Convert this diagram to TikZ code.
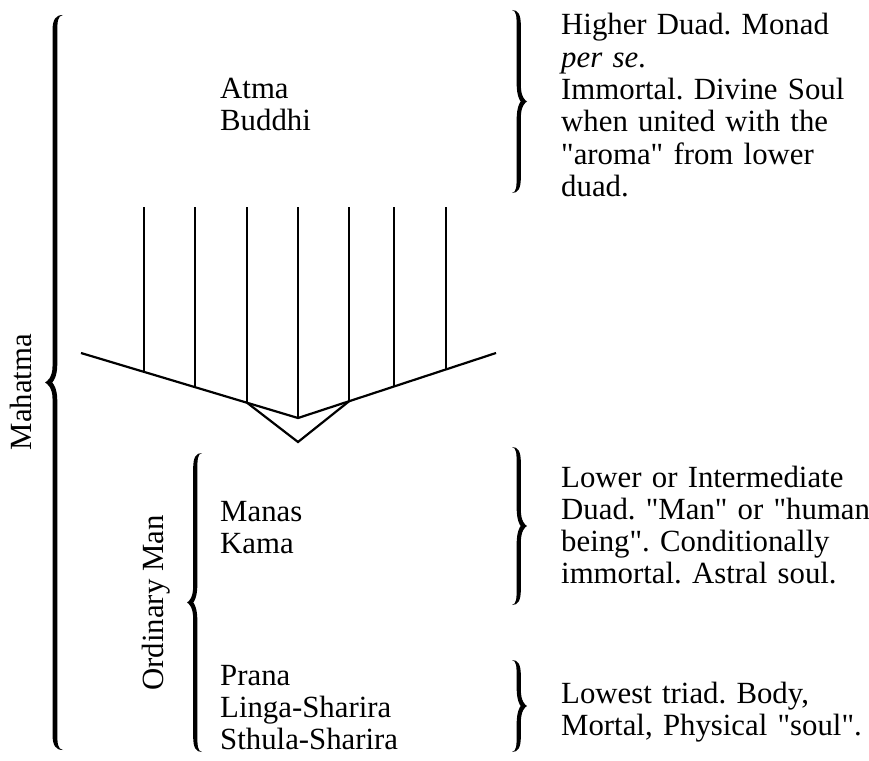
\documentclass[tikz,border=0pt]{standalone}
\usepackage{fontspec}
\setmainfont{Liberation Serif}
\usetikzlibrary{calc}
\newcommand{\brc}[4]{%
\begin{scope}[#1]
\pgfmathsetmacro\brH{#2}\pgfmathsetmacro\brW{#3}\pgfmathsetmacro\brT{#4}
\pgfmathsetmacro\brO{0.45*\brW+\brT/2}
\pgfmathsetmacro\brI{0.45*\brW-\brT/2}
\pgfmathsetmacro\brM{\brH/2}
\pgfmathsetmacro\brN{\brW-1.5*\brT}
\fill (0,0)
 .. controls ({0.4*\brW},0) and (\brO,4) .. (\brO,16)
 -- (\brO,{\brM-16})
 .. controls (\brO,{\brM-5}) and ({\brW-2},{\brM-1}) .. (\brW,\brM)
 .. controls ({\brW-2},{\brM+1}) and (\brO,{\brM+5}) .. (\brO,{\brM+16})
 -- (\brO,{\brH-16})
 .. controls (\brO,{\brH-4}) and ({0.4*\brW},\brH) .. (0,\brH)
 .. controls ({0.3*\brW},{\brH-1}) and (\brI,{\brH-6}) .. (\brI,{\brH-18})
 -- (\brI,{\brM+18})
 .. controls (\brI,{\brM+6}) and ({\brN-1},{\brM+1}) .. (\brN,\brM)
 .. controls ({\brN-1},{\brM-1}) and (\brI,{\brM-6}) .. (\brI,{\brM-18})
 -- (\brI,18)
 .. controls (\brI,6) and ({0.3*\brW},1) .. (0,0) -- cycle;
\end{scope}}
\newcommand{\dq}{\textquotedbl}
\tikzset{
 lbl/.style={anchor=base west, inner sep=0pt, text width=320pt, align=left,
   font=\fontsize{30.8}{32.3}\selectfont\frenchspacing},
 vlbl/.style={anchor=base, inner sep=0pt, rotate=90, font=\fontsize{30.8}{32.3}\selectfont},
 ray/.style={line width=2pt},
 vee/.style={line width=2.2pt, line join=miter},
}
\begin{document}
\begin{tikzpicture}[x=1pt,y=-1pt]
\useasboundingbox[fill=white] (0,0) rectangle (869,760);
% labels
\node[lbl] (atma) at (220,98) {Atma\\Buddhi};
\node[lbl] (manas) at (220,521) {Manas\\Kama};
\node[lbl] (prana) at (220,685) {Prana\\Linga-Sharira\\Sthula-Sharira};
\node[lbl] (higher) at (561,35) {Higher Duad. Monad\\\textit{per se}.\\Immortal. Divine Soul\\when united with the\\\dq aroma\dq{} from lower\\duad.};
\node[lbl] (lower) at (561,487) {Lower or Intermediate\\Duad. \dq Man\dq{} or \dq human\\being\dq. Conditionally\\immortal. Astral soul.};
\node[lbl] (lowest) at (561,703) {Lowest triad. Body,\\Mortal, Physical \dq soul\dq.};
\node[vlbl] (mahatma) at (31,392) {Mahatma};
\node[vlbl] (ordinary) at (163,603) {Ordinary Man};
% braces
\brc{shift={(63,15)},xscale=-1}{735}{18}{4.8}
\brc{shift={(202,453)},xscale=-1}{299}{15}{4.2}
\brc{shift={(512,10)}}{183}{15}{4.2}
\brc{shift={(512,447)}}{158}{15}{4.2}
\brc{shift={(512,660)}}{92}{15}{4.2}
% V figure
\coordinate (vl) at (81,353);
\coordinate (vb) at (298,418);
\coordinate (vr) at (496,353);
\coordinate (tl) at (247,402.7);
\coordinate (tr) at (349,401.3);
\coordinate (tb) at (298,442);
\foreach \x/\y in {144/371.9,195/387.1,247/402.7,298/418,349/401.3,394/386.5,446/369.4}
  \draw[ray] (\x,207) -- (\x,\y);
\draw[vee] (vl) -- (vb) -- (vr);
\draw[vee] (tl) -- (tb) -- (tr);
\end{tikzpicture}
\end{document}
